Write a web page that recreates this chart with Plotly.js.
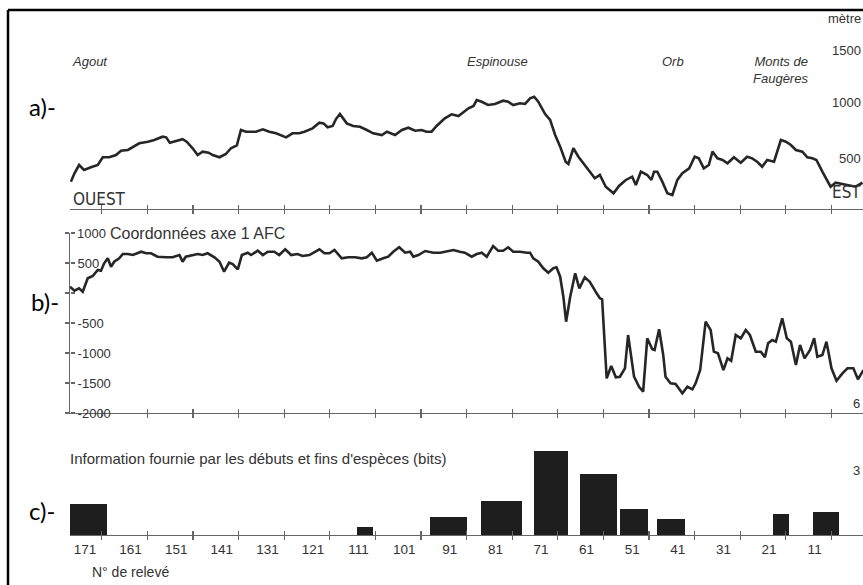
<!DOCTYPE html>
<html>
<head>
<meta charset="utf-8">
<script src="https://cdn.plot.ly/plotly-3.0.1.min.js"></script>
<style>
  html, body { margin: 0; padding: 0; background: #ffffff; }
  #chart { width: 863px; height: 585px; }
</style>
</head>
<body>
<div id="chart"></div>
<script>
// ---- Data ----
// a) altitude profile (m) along the transect, by relevé number
const releveA = [174.1,173.3,172.3,171.2,169.7,168.2,167.1,165.7,164.2,163.1,
  161.6,160.5,159.1,157.2,155.8,154.0,153.2,152.4,151.0,149.6,
  148.7,147.4,146.3,145.2,143.9,143.0,141.5,140.1,139.0,137.7,
  136.8,135.7,133.5,132.0,130.6,129.1,126.9,125.5,124.0,122.9,
  121.1,119.6,118.7,117.8,116.7,116.0,115.1,113.6,112.2,110.7,
  109.2,107.8,105.9,104.8,103.0,101.5,100.1,98.6,97.2,96.1,
  95.0,93.9,92.1,90.6,89.1,88.0,86.9,85.8,85.1,84.0,
  82.6,81.1,79.3,78.2,77.1,75.6,74.5,73.4,72.5,71.6,
  70.1,69.0,67.9,66.8,65.6,65.0,63.9,62.8,61.7,60.6,
  59.2,58.1,56.8,55.1,53.9,52.4,51.0,50.2,49.1,47.7,
  46.8,46.2,45.5,44.4,43.3,42.2,41.1,40.0,38.5,37.3,
  36.4,35.3,34.2,33.4,32.3,31.2,30.1,28.7,27.2,25.8,
  24.7,23.6,22.5,21.4,19.9,18.4,17.3,16.2,15.1,13.7,
  12.6,11.5,10.6,9.3,7.5,6.4,4.9,3.5,2.0,0.5];
const altitudeA = [258,337,415,368,393,415,488,488,509,550,
  557,588,620,635,651,682,676,625,642,658,
  635,573,509,541,531,509,488,519,573,601,
  745,729,729,752,729,714,676,714,714,729,
  761,814,808,771,783,846,896,808,783,776,
  745,714,698,729,698,745,767,739,745,729,
  729,783,856,893,877,912,950,972,1028,1012,
  981,991,1022,1012,981,997,991,1044,1059,1012,
  896,840,698,588,446,425,573,493,431,368,
  290,321,210,148,217,274,305,226,352,321,
  274,352,352,258,148,132,274,337,384,493,
  478,384,415,541,478,462,431,488,437,493,
  478,446,399,462,446,651,635,604,557,541,
  488,478,462,352,210,248,236,226,210,248];

// b) coordinates on AFC axis 1
const releveB = [174.3,173.3,172.3,171.5,170.4,169.3,168.2,167.5,166.8,166.0,
  165.3,164.6,163.5,162.7,161.6,160.5,158.7,157.6,156.5,155.1,
  153.2,151.8,150.3,149.6,148.9,147.4,146.3,145.2,144.1,142.6,
  141.5,140.5,139.4,138.6,137.5,136.6,135.3,134.6,133.1,132.0,
  130.9,129.5,128.4,127.1,125.8,124.4,123.3,121.8,120.7,119.6,
  118.5,117.4,116.3,114.7,113.3,111.8,110.3,109.2,108.1,107.0,
  105.6,104.5,103.4,102.1,100.8,99.7,99.0,97.9,96.4,94.6,
  93.1,91.7,90.2,88.8,87.7,86.2,85.1,84.0,82.9,81.5,
  80.4,79.3,78.2,77.1,75.6,74.1,73.4,72.7,71.6,70.5,
  69.4,68.3,67.6,66.8,66.1,65.5,64.6,63.5,62.6,61.4,
  60.3,58.8,58.1,57.6,57.2,56.6,55.6,54.6,53.7,52.6,
  51.9,50.6,49.5,48.6,47.7,46.6,46.1,45.1,44.2,43.7,
  42.6,41.5,40.0,38.9,37.8,37.1,36.1,34.9,33.8,33.1,
  32.2,31.0,30.1,29.3,28.3,27.2,26.1,25.2,23.9,22.8,
  21.9,21.2,20.3,19.5,18.1,17.1,16.2,15.1,14.2,13.2,
  12.0,11.1,10.4,9.3,8.4,7.3,6.2,4.9,3.8,2.5,
  1.5,0.3];
const afcAxis1 = [105,38,78,22,245,283,383,372,495,578,
  438,522,578,650,650,633,688,662,662,605,
  595,595,633,522,605,633,650,633,662,595,
  522,355,505,483,395,633,672,633,705,633,
  688,688,633,728,633,650,617,633,688,728,
  662,662,717,578,595,595,578,595,672,538,
  578,605,688,762,672,688,605,633,700,672,
  672,688,717,688,672,605,650,672,605,783,
  705,705,762,688,688,672,672,578,522,412,
  338,412,428,272,-62,-478,-62,328,78,262,
  188,-5,-88,-105,-672,-1422,-1217,-1405,-1395,-1255,
  -700,-1395,-1562,-1645,-755,-938,-950,-605,-1033,-1395,
  -1505,-1517,-1672,-1562,-1605,-1505,-1284,-478,-617,-978,
  -1005,-1284,-1089,-1129,-700,-755,-617,-700,-978,-978,
  -1072,-838,-783,-812,-422,-755,-812,-1200,-867,-1089,
  -950,-755,-1062,-1034,-812,-1255,-1462,-1339,-1255,-1255,
  -1439,-1284];

// c) information (bits) from species starts and ends
const barReleve = [170.2,109.6,91.3,79.7,68.8,58.4,50.6,42.5,18.4,8.5];
const barBits   = [1.41,0.36,0.82,1.55,3.82,2.77,1.18,0.73,0.95,1.05];
const barSpan   = [8.1,3.5,8.1,9.0,7.5,8.1,6.1,6.1,3.5,5.7];

// axis ticks / labels
const tickMarks  = [167.3,157.3,147.3,137.3,127.3,117.3,107.3,97.3,87.3,77.3,67.3,57.3,47.3,37.3,27.3,17.3,7.3];
const tickLabels = [171,161,151,141,131,121,111,101,91,81,71,61,51,41,31,21,11,1];
const afcTicks   = [1000,500,0,-500,-1000,-1500,-2000];
const afcTickText = ['', '500', '', '-500', '-1000', '-1500', '-2000'];

// ---- Figure ----
const W = 863, H = 585, L = 70;
const px = x => (x - L) / (W - L);
const py = y => (H - y) / H;
const FN = '"Liberation Sans", Arial, sans-serif';
const FC = '"DejaVu Sans Condensed", "Liberation Sans", sans-serif';
const XR = [174.29, 0.39];
const YB = [-2000, 1000];
const AX = '#666';
const TC = '#333';

function xax(anchor, overlay, dir) {
  const a = {
    anchor: anchor, range: XR, showgrid: false, zeroline: false,
    showline: !overlay, linecolor: AX, linewidth: 1.2,
    tickmode: 'array', tickvals: tickMarks, ticks: dir, ticklen: 4,
    tickcolor: AX, tickwidth: 1.2, showticklabels: false, fixedrange: true
  };
  if (overlay) a.overlaying = overlay;
  return a;
}

const lineStyle = { color: '#262626', width: 2.6 };
const traces = [
  { type: 'scatter', mode: 'lines', x: releveA, y: altitudeA, xaxis: 'x', yaxis: 'y',
    line: lineStyle, hoverinfo: 'skip', showlegend: false },
  { type: 'scatter', mode: 'lines', x: releveB, y: afcAxis1, xaxis: 'x2', yaxis: 'y2',
    line: lineStyle, hoverinfo: 'skip', showlegend: false },
  { type: 'bar', x: barReleve, y: barBits, width: barSpan, xaxis: 'x3', yaxis: 'y3',
    marker: { color: '#1e1e1e', line: { width: 0 } }, hoverinfo: 'skip', showlegend: false },
  // empty traces so the overlay axes get drawn
  { type: 'scatter', x: [], y: [], xaxis: 'x4', yaxis: 'y', showlegend: false },
  { type: 'scatter', x: [], y: [], xaxis: 'x5', yaxis: 'y2', showlegend: false },
  { type: 'scatter', x: [], y: [], xaxis: 'x6', yaxis: 'y3', showlegend: false },
  { type: 'scatter', x: [], y: [], xaxis: 'x7', yaxis: 'y3', showlegend: false },
  { type: 'scatter', x: [], y: [], xaxis: 'x2', yaxis: 'y5', showlegend: false }
];

const txt = (t, x, y, o) => Object.assign({
  text: t, x: px(x), y: py(y), xref: 'paper', yref: 'paper',
  xanchor: 'left', yanchor: 'middle', showarrow: false,
  font: { family: FN, size: 13, color: TC }
}, o || {});
const ital = { family: FN, size: 13, color: TC, style: 'italic' };
const lab = { family: 'Lato, "Open Sans", sans-serif', size: 24, color: '#000' };

const layout = {
  width: W, height: H,
  margin: { l: L, r: 0, t: 0, b: 0 },
  paper_bgcolor: '#ffffff', plot_bgcolor: 'rgba(0,0,0,0)',
  showlegend: false,
  bargap: 0,
  xaxis: xax('y', null, 'outside'),
  xaxis2: xax('y2', null, 'outside'),
  xaxis3: xax('y3', null, 'outside'),
  xaxis4: xax('y', 'x', 'inside'),
  xaxis5: xax('y2', 'x2', 'inside'),
  xaxis6: xax('y3', 'x3', 'inside'),
  xaxis7: {
    anchor: 'y3', overlaying: 'x3', range: XR, showgrid: false, zeroline: false,
    showline: false, tickmode: 'array', tickvals: tickLabels, ticks: '',
    ticklabelstandoff: 4, tickfont: { family: FN, size: 13.5, color: TC }, fixedrange: true
  },
  yaxis: { domain: [py(209), py(50)], range: [0, 1500], visible: false, fixedrange: true },
  yaxis2: {
    domain: [py(413), py(233)], range: YB, anchor: 'x2',
    showgrid: false, zeroline: false, showline: true, linecolor: AX, linewidth: 1.2,
    tickmode: 'array', tickvals: afcTicks, ticks: 'outside', ticklen: 4,
    tickcolor: AX, tickwidth: 1.2, showticklabels: false, fixedrange: true
  },
  yaxis5: {
    overlaying: 'y2', side: 'right', anchor: 'free', position: 0, range: YB,
    showgrid: false, zeroline: false, showline: false,
    tickmode: 'array', tickvals: afcTicks, ticktext: afcTickText,
    ticks: 'outside', ticklen: 4, tickcolor: AX, tickwidth: 1.2,
    tickfont: { family: FN, size: 13, color: TC }, fixedrange: true
  },
  yaxis3: { domain: [py(535), py(447)], range: [0, 4], visible: false, fixedrange: true },
  annotations: [
    txt('Agout', 70, 62, { font: ital }),
    txt('Espinouse', 465, 62, { font: ital }),
    txt('Orb', 660, 62, { font: ital }),
    txt('Monts de<br>Faugères', 810, 70, { xanchor: 'right', align: 'right', font: ital }),
    txt('OUEST', 71, 199, { font: { family: FC, size: 17, color: TC } }),
    txt('EST', 863, 192, { xanchor: 'right', font: { family: FC, size: 17, color: TC } }),
    txt('mètre', 863, 18, { xanchor: 'right' }),
    txt('1500', 863, 50, { xanchor: 'right' }),
    txt('1000', 863, 102, { xanchor: 'right' }),
    txt('500', 863, 158, { xanchor: 'right' }),
    txt('1000', 75, 233),
    txt('Coordonnées axe 1 AFC', 108, 233, { font: { family: FN, size: 16, color: TC } }),
    txt('6', 862, 403, { xanchor: 'right' }),
    txt('3', 862, 470, { xanchor: 'right' }),
    txt("Information fournie par les débuts et fins d'espèces (bits)", 68, 458,
      { font: { family: FN, size: 15, color: TC } }),
    txt('N° de relevé', 90, 572, { font: { family: FN, size: 14, color: TC } }),
    txt('a)-', 27, 106, { font: lab }),
    txt('b)-', 29, 302, { font: lab }),
    txt('c)-', 27, 510, { font: lab })
  ],
  shapes: [
    { type: 'line', xref: 'paper', yref: 'paper', x0: px(8), x1: 1.01, y0: py(10), y1: py(10),
      line: { color: '#000', width: 2.5 } },
    { type: 'line', xref: 'paper', yref: 'paper', x0: px(8), x1: px(8), y0: py(10), y1: -0.01,
      line: { color: '#000', width: 2.5 } }
  ]
};

Plotly.newPlot('chart', traces, layout, { displayModeBar: false, staticPlot: true });
</script>
</body>
</html>
